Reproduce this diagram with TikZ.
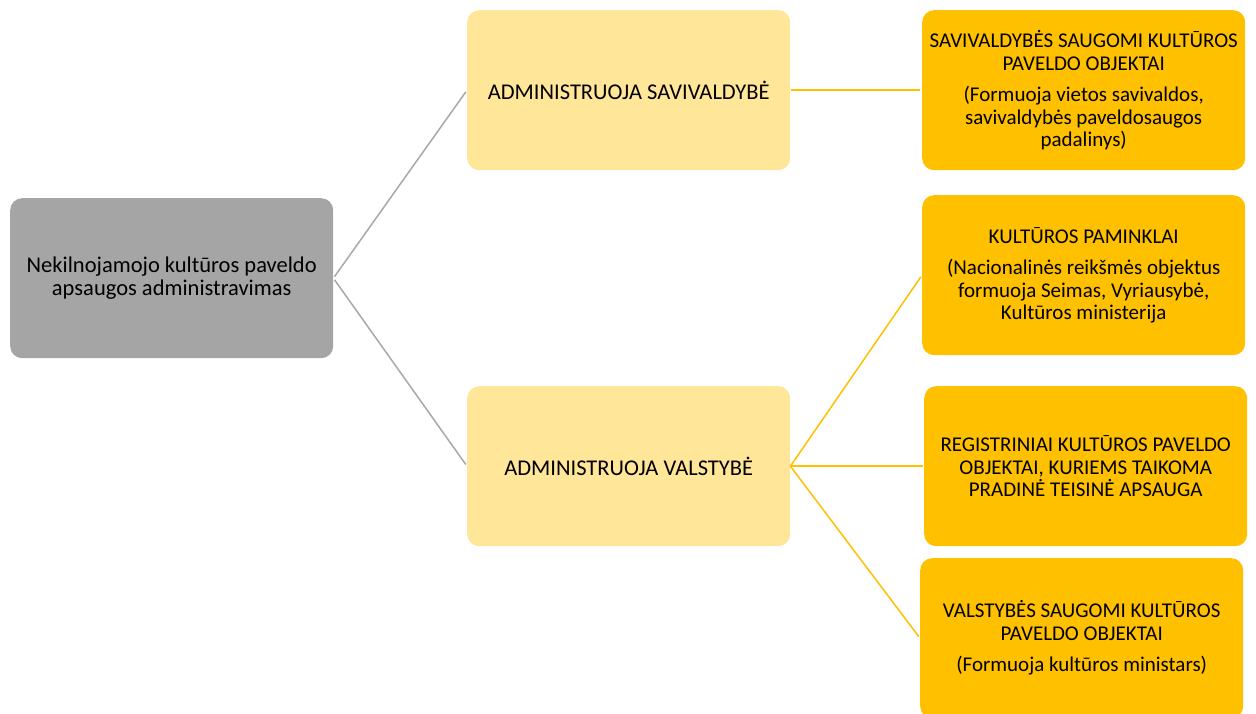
\documentclass[tikz,border=0pt]{standalone}
\usepackage{fontspec}
\setmainfont{Carlito}
\begin{document}
\begin{tikzpicture}[x=1pt,y=-1pt,
  box/.style={rounded corners=12pt, minimum width=323pt, minimum height=160pt,
    align=center, inner sep=0pt, anchor=north west},
  rootbox/.style={box, fill=rootgray, font=\fontsize{22.5}{23.5}\selectfont},
  midbox/.style={box, fill=midyellow, font=\fontsize{22.5}{24}\selectfont},
  leafbox/.style={box, fill=leaforange, font=\fontsize{21}{22.5}\selectfont},
  grayline/.style={draw=linegray, line width=1.5pt},
  yelline/.style={draw=leaforange, line width=1.5pt}]
\definecolor{rootgray}{HTML}{A5A5A5}
\definecolor{linegray}{HTML}{A8A8A8}
\definecolor{midyellow}{HTML}{FFE699}
\definecolor{leaforange}{HTML}{FFC000}
\useasboundingbox (0,0) rectangle (1256,714);
\node[rootbox] (root) at (10,198) {Nekilnojamojo kultūros paveldo\\apsaugos administravimas};
\node[midbox] (m1) at (467,10) {ADMINISTRUOJA SAVIVALDYBĖ};
\node[midbox] (m2) at (467,386) {ADMINISTRUOJA VALSTYBĖ};
\node[leafbox] (r1) at (922,10) {SAVIVALDYBĖS SAUGOMI KULTŪROS\\PAVELDO OBJEKTAI\\[9pt](Formuoja vietos savivaldos,\\savivaldybės paveldosaugos\\padalinys)};
\node[leafbox] (r2) at (922,195) {KULTŪROS PAMINKLAI\\[9pt](Nacionalinės reikšmės objektus\\formuoja Seimas, Vyriausybė,\\Kultūros ministerija};
\node[leafbox] (r3) at (924,386) {REGISTRINIAI KULTŪROS PAVELDO\\OBJEKTAI, KURIEMS TAIKOMA\\PRADINĖ TEISINĖ APSAUGA};
\node[leafbox] (r4) at (920,558) {VALSTYBĖS SAUGOMI KULTŪROS\\PAVELDO OBJEKTAI\\[9pt](Formuoja kultūros ministars)};
\draw[grayline, shorten <=2pt, shorten >=2pt] (root.east) -- (m1.west);
\draw[grayline, shorten <=2pt, shorten >=2pt] (root.east) -- (m2.west);
\draw[yelline, shorten <=1pt, shorten >=2pt] (m1.east) -- (r1.west);
\draw[yelline, shorten >=2pt] (m2.east) -- (r2.west);
\draw[yelline, shorten >=1pt] (m2.east) -- (r3.west);
\draw[yelline, shorten >=2pt] (m2.east) -- (r4.west);
\end{tikzpicture}
\end{document}
